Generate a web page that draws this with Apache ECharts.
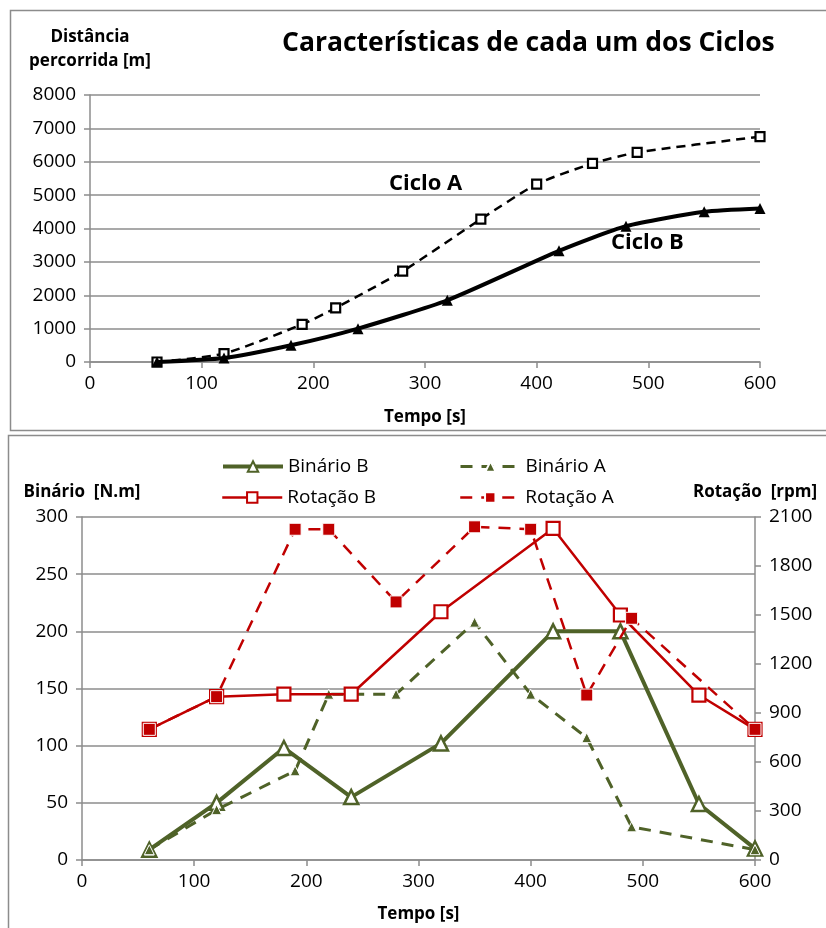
<!DOCTYPE html>
<html>
<head>
<meta charset="utf-8">
<script src="https://cdn.jsdelivr.net/npm/echarts@6/dist/echarts.min.js"></script>
<style>html,body{margin:0;padding:0;background:#fff}#c{width:826px;height:928px}</style>
</head>
<body>
<div id="c"></div>
<script>
// ---- Top chart data: distance covered [m] vs time [s]
const timeCicloA = [60, 120, 190, 220, 280, 350, 400, 450, 490, 600];
const distCicloA = [0, 250, 1130, 1620, 2720, 4280, 5330, 5950, 6280, 6750];
const timeCicloB = [60, 120, 180, 240, 320, 420, 480, 550, 600];
const distCicloB = [0, 120, 500, 1000, 1850, 3330, 4070, 4500, 4600];

// ---- Bottom chart data
const timeB = [60, 120, 180, 240, 320, 420, 480, 550, 600];
const binarioB = [9, 50, 98, 55, 102, 200, 200, 49, 10];
const rotacaoB = [800, 1000, 1015, 1015, 1520, 2030, 1500, 1010, 800];
const timeA = [60, 120, 190, 220, 280, 350, 400, 450, 490, 600];
const binarioA = [9, 44, 78, 145, 145, 208, 145, 107, 29, 9];
const rotacaoA = [800, 1000, 2025, 2025, 1580, 2040, 2025, 1010, 1480, 800];

const pairs = (xs, ys) => xs.map((x, i) => [x, ys[i]]);

const FONT = '"Open Sans", sans-serif';
const GREEN = '#4F6228';
const RED = '#C00000';
const GRID = '#8C8C8C';

const chart = echarts.init(document.getElementById('c'), null, {renderer: 'canvas'});

const axisLbl = {color: '#000', fontSize: 19, fontFamily: FONT, formatter: v => String(v)};
const axisNameStyle = {color: '#000', fontSize: 17, fontWeight: 'bold', fontFamily: FONT};

function xAx(gridIndex, gap) {
  return {
    type: 'value', gridIndex, min: 0, max: 600, interval: 100,
    axisLine: {show: true, lineStyle: {color: GRID, width: 1.5}},
    axisTick: {show: true, length: 6, lineStyle: {color: GRID, width: 1.5}},
    axisLabel: Object.assign({margin: 12}, axisLbl),
    splitLine: {show: false},
    name: 'Tempo [s]', nameLocation: 'middle', nameGap: gap,
    nameTextStyle: axisNameStyle
  };
}

const legendBase = {
  itemWidth: 60, itemHeight: 13, itemGap: 0,
  textStyle: {color: '#000', fontSize: 19, fontFamily: FONT}
};

const option = {
  backgroundColor: '#fff',
  animation: false,
  title: {
    text: 'Características de cada um dos Ciclos',
    left: 277, top: 25,
    textStyle: {fontSize: 26.5, fontWeight: 'bold', color: '#000', fontFamily: FONT}
  },
  legend: [
    Object.assign({data: ['Binário B'], left: 216, top: 452, lineStyle: {width: 4}}, legendBase),
    Object.assign({data: ['Binário A'], left: 454, top: 452, lineStyle: {width: 3}}, legendBase),
    Object.assign({data: ['Rotação B'], left: 216, top: 483, lineStyle: {width: 2.5}}, legendBase),
    Object.assign({data: ['Rotação A'], left: 454, top: 483, lineStyle: {width: 2.5}}, legendBase)
  ],
  grid: [
    {left: 90, right: 66, top: 95, height: 267},
    {left: 82, right: 71, top: 517, height: 343}
  ],
  xAxis: [xAx(0, 47), xAx(1, 46)],
  yAxis: [
    {
      type: 'value', gridIndex: 0, min: 0, max: 8000, interval: 1000,
      axisLine: {show: true, lineStyle: {color: GRID, width: 1.5}},
      axisTick: {show: true, length: 6, lineStyle: {color: GRID, width: 1.5}},
      axisLabel: Object.assign({margin: 14}, axisLbl),
      splitLine: {show: true, lineStyle: {color: GRID, width: 1.5}},
      name: 'Distância\npercorrida [m]', nameLocation: 'end', nameGap: 22,
      nameTextStyle: Object.assign({align: 'center', lineHeight: 24}, axisNameStyle)
    },
    {
      type: 'value', gridIndex: 1, min: 0, max: 300, interval: 50,
      axisLine: {show: true, lineStyle: {color: GRID, width: 1.5}},
      axisTick: {show: true, length: 6, lineStyle: {color: GRID, width: 1.5}},
      axisLabel: Object.assign({margin: 14}, axisLbl),
      splitLine: {show: true, lineStyle: {color: GRID, width: 1.5}},
      name: 'Binário  [N.m]', nameLocation: 'end', nameGap: 16,
      nameTextStyle: Object.assign({align: 'center'}, axisNameStyle)
    },
    {
      type: 'value', gridIndex: 1, position: 'right', min: 0, max: 2100, interval: 300,
      axisLine: {show: true, lineStyle: {color: GRID, width: 1.5}},
      axisTick: {show: true, length: 6, lineStyle: {color: GRID, width: 1.5}},
      axisLabel: Object.assign({margin: 14}, axisLbl),
      splitLine: {show: false},
      name: 'Rotação  [rpm]', nameLocation: 'end', nameGap: 16,
      nameTextStyle: Object.assign({align: 'center'}, axisNameStyle)
    }
  ],
  series: [
    {
      name: 'Ciclo A', type: 'line', xAxisIndex: 0, yAxisIndex: 0,
      data: pairs(timeCicloA, distCicloA), smooth: 0.2,
      lineStyle: {color: '#000', width: 2.5, type: [9, 6]},
      symbol: 'rect', symbolSize: 9,
      itemStyle: {color: '#fff', borderColor: '#000', borderWidth: 2.2},
      z: 3
    },
    {
      name: 'Ciclo B', type: 'line', xAxisIndex: 0, yAxisIndex: 0,
      data: pairs(timeCicloB, distCicloB), smooth: 0.2,
      lineStyle: {color: '#000', width: 4},
      symbol: 'triangle', symbolSize: 11,
      itemStyle: {color: '#000', borderColor: '#000', borderWidth: 0},
      z: 4
    },
    {
      name: 'Binário B', type: 'line', xAxisIndex: 1, yAxisIndex: 1,
      data: pairs(timeB, binarioB),
      lineStyle: {color: GREEN, width: 4},
      symbol: 'triangle', symbolSize: 14,
      itemStyle: {color: '#fff', borderColor: GREEN, borderWidth: 2.5},
      z: 3
    },
    {
      name: 'Binário A', type: 'line', xAxisIndex: 1, yAxisIndex: 1,
      data: pairs(timeA, binarioA),
      lineStyle: {color: GREEN, width: 3, type: [12, 9]},
      symbol: 'triangle', symbolSize: 10,
      itemStyle: {color: GREEN, borderColor: '#fff', borderWidth: 1},
      z: 4
    },
    {
      name: 'Rotação B', type: 'line', xAxisIndex: 1, yAxisIndex: 2,
      data: pairs(timeB, rotacaoB),
      lineStyle: {color: RED, width: 2.5},
      symbol: 'rect', symbolSize: 13,
      itemStyle: {color: '#fff', borderColor: RED, borderWidth: 2.2},
      z: 5
    },
    {
      name: 'Rotação A', type: 'line', xAxisIndex: 1, yAxisIndex: 2,
      data: pairs(timeA, rotacaoA),
      lineStyle: {color: RED, width: 2.5, type: [12, 9]},
      symbol: 'rect', symbolSize: 12,
      itemStyle: {color: RED, borderColor: '#fff', borderWidth: 1},
      z: 6
    }
  ],
  graphic: [
    {type: 'rect', shape: {x: 10.5, y: 10.5, width: 830, height: 420}, style: {fill: 'none', stroke: '#8C8C8C', lineWidth: 1.5}, z: -1},
    {type: 'rect', shape: {x: 8.5, y: 435.5, width: 830, height: 520}, style: {fill: 'none', stroke: '#8C8C8C', lineWidth: 1.5}, z: -1},
    {type: 'text', left: 389, top: 173, style: {text: 'Ciclo A', fontSize: 22, fontWeight: 'bold', fill: '#000', fontFamily: FONT}},
    {type: 'text', left: 611, top: 232, style: {text: 'Ciclo B', fontSize: 22, fontWeight: 'bold', fill: '#000', fontFamily: FONT}}
  ]
};
chart.setOption(option);
</script>
</body>
</html>
